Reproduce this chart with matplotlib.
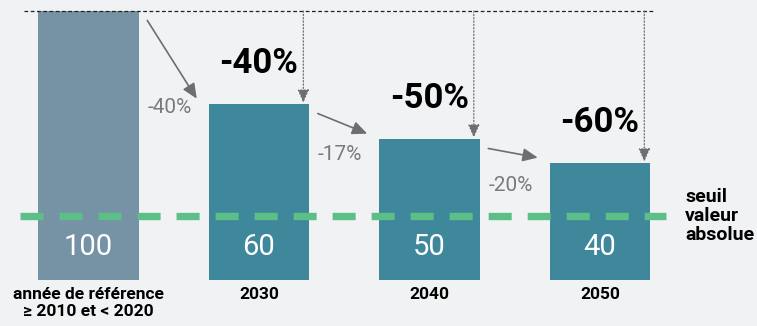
import matplotlib
matplotlib.use('Agg')
import matplotlib.pyplot as plt

# Data
categories = ['année de référence\n≥ 2010 et < 2020', '2030', '2040', '2050']
values = [100, 60, 50, 40]
bar_heights = [100, 65.4, 52.4, 43.5]   # drawn heights (schematic, not to scale)
target_labels = ['', '-40%', '-50%', '-60%']
step_labels = ['-40%', '-17%', '-20%']
step_label_y = [64.3, 46.8, 35.3]
threshold = 23.8

plt.rcParams['font.family'] = ['Roboto', 'DejaVu Sans']

bg = '#f1f2f4'
col_ref = '#7593a4'
col_bar = '#3f889b'
green = '#5dbf88'
grey = '#6e6e6e'

fig = plt.figure(figsize=(7.57, 3.26), dpi=100, facecolor=bg)
ax = fig.add_axes([0, 0, 1, 1])
ax.set_facecolor(bg)
ax.set_xlim(-0.519, 3.921)
ax.set_ylim(-17.1, 104.1)
ax.axis('off')

x = list(range(len(values)))
w = 0.59
colors = [col_ref] + [col_bar] * (len(values) - 1)
ax.bar(x, bar_heights, width=w, color=colors, zorder=2)

# threshold line
ax.plot([-0.40, 3.39], [threshold, threshold], color=green, lw=5.3,
        dashes=(3.13, 2.17), zorder=3)
ax.text(3.50, threshold, 'seuil\nvaleur\nabsolue', ha='left', va='center',
        fontsize=14, fontweight='bold', linespacing=1.05)

# reference line at top
ax.plot([-0.38, 3.31], [bar_heights[0]] * 2, color='#222222', lw=0.9,
        dashes=(3, 2), zorder=3)

for i in x:
    ax.text(i, 12.3, str(values[i]), ha='center', va='center', color='white',
            fontsize=21)
    ax.text(i, -2.6, categories[i], ha='center', va='top', fontsize=12.5,
            fontweight='bold', linespacing=1.15)
    if i > 0:
        # dotted drop from reference level
        xa = i + 0.26
        ax.annotate('', xy=(xa, bar_heights[i] + 0.5), xytext=(xa, bar_heights[0]),
                    arrowprops=dict(arrowstyle='-|>,head_length=0.8,head_width=0.35',
                                    color=grey, lw=0.9, linestyle=':',
                                    shrinkA=0, shrinkB=0), zorder=4)
        ax.text(i, bar_heights[i] + 15, target_labels[i], ha='center', va='center',
                fontsize=25, fontweight='bold')

# step arrows between bars
for i, lab in enumerate(step_labels):
    x0 = i + w / 2 + 0.05
    x1 = i + 1 - w / 2 - 0.07
    ax.annotate('', xy=(x1, bar_heights[i + 1] + 2), xytext=(x0, bar_heights[i] - 3.5),
                arrowprops=dict(arrowstyle='-|>,head_length=0.9,head_width=0.4',
                                color=grey, lw=1.2, shrinkA=0, shrinkB=0), zorder=4)
    ax.text(x0, step_label_y[i], lab, ha='left', va='center', color='#7a7a7a',
            fontsize=15)

fig.savefig('out.png', dpi=100, facecolor=bg)
